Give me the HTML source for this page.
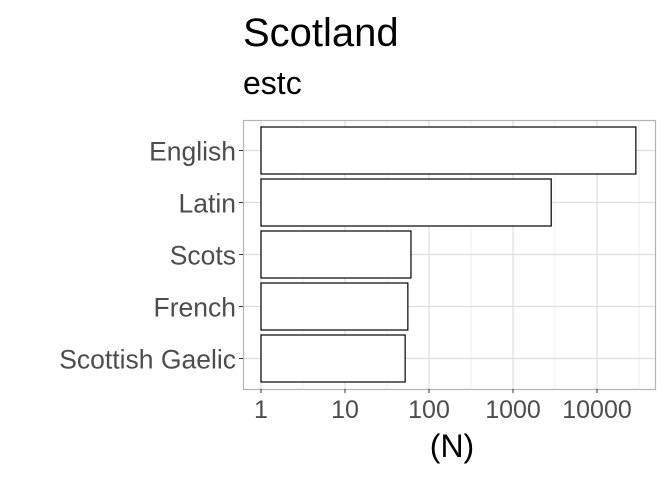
<!DOCTYPE html>
<html><head><meta charset="utf-8"><style>
body{margin:0;background:#fff;}
svg text{font-family:"Liberation Sans",Arial,sans-serif;}
</style></head><body>
<svg id="chart" width="672" height="480" xmlns="http://www.w3.org/2000/svg">
<rect width="672" height="480" fill="#fff"/>
<text x="243" y="46" font-size="40" fill="#000">Scotland</text>
<text x="243" y="94" font-size="32" fill="#000">estc</text>
<g id="grid"></g>
<g id="bars"></g>
<rect x="243.5" y="120.5" width="412" height="269" fill="none" stroke="#b3b3b3" stroke-width="1.2"/>
<g id="axes"></g>
<text x="452" y="457" font-size="32" text-anchor="middle" fill="#000">(N)</text>
</svg>
<script>
const categories = ["English","Latin","Scots","French","Scottish Gaelic"];
const values = [29000, 2850, 61, 56, 52];
const tickValues = [1, 10, 100, 1000, 10000];
const tickLabels = ["1","10","100","1000","10000"];

const NS = "http://www.w3.org/2000/svg";
const x = v => 261 + Math.log10(v) * 84;
const yC = i => 150.5 + i * 52;
const bh = 47;
const grid = document.getElementById('grid'), bars = document.getElementById('bars'), axes = document.getElementById('axes');
function mk(tag, attrs, parent){const e=document.createElementNS(NS,tag);for(const k in attrs)e.setAttribute(k,attrs[k]);parent.appendChild(e);return e;}

for (let d = 0.5; d <= 4.6; d += 1) {
  const l = mk('line',{x1:261+d*84,x2:261+d*84,y1:120,y2:389,stroke:'#ebebeb','stroke-width':0.8},grid);
  
  
}
tickValues.forEach((v,i)=>{
  const l = mk('line',{x1:x(v),x2:x(v),y1:120,y2:389,stroke:'#dedede','stroke-width':1.2},grid);
  
  
  const t = mk('line',{x1:x(v),x2:x(v),y1:389,y2:393,stroke:'#333','stroke-width':1},axes);
  
  
  const tx = mk('text',{x:x(v),y:418,'font-size':25,'text-anchor':'middle',fill:'#4d4d4d'},axes);
  tx.textContent = tickLabels[i];
  
  
});
categories.forEach((c,i)=>{
  const l = mk('line',{x1:243,x2:655,y1:yC(i),y2:yC(i),stroke:'#dedede','stroke-width':1.2},grid);
  
  
  const r = mk('rect',{x:x(1),y:yC(i)-bh/2,width:x(values[i])-x(1),height:bh,fill:'#fff',stroke:'#000','stroke-width':1.2},bars);
  
  
  const t = mk('line',{x1:239,x2:243,y1:yC(i),y2:yC(i),stroke:'#333','stroke-width':1},axes);
  
  
  const tx = mk('text',{x:236,y:yC(i)+10,'font-size':26.5,'text-anchor':'end',fill:'#4d4d4d'},axes);
  tx.textContent = c;
  
  
});
</script>
</body></html>
